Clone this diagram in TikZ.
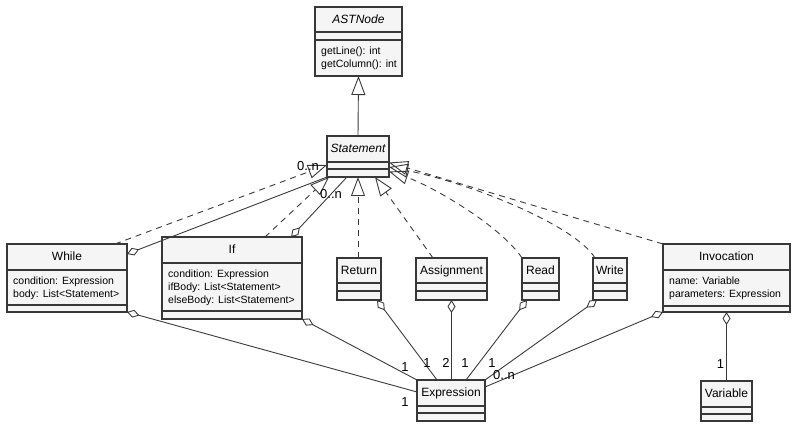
\documentclass[tikz,border=0pt]{standalone}
\usepackage{fontspec}
\setmainfont{Liberation Sans}
\usetikzlibrary{arrows.meta,calc,fit}
\definecolor{boxfill}{HTML}{F5F5F5}
\definecolor{boxline}{HTML}{383838}
\definecolor{conn}{HTML}{3A3A3A}
\newcommand{\umlbox}[7]{%
  \node[classbox, fit={(#2,#3) (#4,#5)}] (#1) {};
  \draw[divider] (#2,#6) -- (#4,#6);
  \draw[divider] (#2,#7) -- (#4,#7);
}
\begin{document}
\begin{tikzpicture}[x=1pt,y=-1pt,
  classbox/.style={draw=boxline, fill=boxfill, line width=1.4pt, inner sep=0pt, outer sep=0pt},
  divider/.style={draw=boxline, line width=1.4pt},
  cname/.style={font=\fontsize{12}{14}\selectfont, inner sep=0pt, anchor=base},
  aname/.style={font=\fontsize{12}{14}\selectfont\itshape, inner sep=0pt, anchor=base},
  attr/.style={font=\fontsize{10.5}{12}\selectfont, inner sep=0pt, anchor=base west},
  mult/.style={font=\fontsize{13}{15}\selectfont, inner sep=0pt},
  link/.style={draw=conn, line width=0.9pt},
  realize/.style={link, dash pattern=on 6pt off 5pt, -{Triangle[open, length=19pt, width=14pt]}},
  inherit/.style={link, -{Triangle[open, length=19pt, width=14pt]}},
  aggr/.style={link, {Diamond[open, length=13pt, width=8pt]}-},
]
\useasboundingbox (0,0) rectangle (796,427);

% ---- classes ----
\umlbox{astnode}{315}{7}{402}{76}{32}{40}
\node[aname] (astnode-t) at (358.5,24) {ASTNode};
\node[attr] (astnode-m1) at (321,54.5) {getLine(): int};
\node[attr] (astnode-m2) at (321,67.5) {getColumn(): int};

\umlbox{statement}{327}{136}{389}{177}{162}{169}
\node[aname] (statement-t) at (358,153) {Statement};

\umlbox{while}{7}{244}{127}{312}{270}{305}
\node[cname] (while-t) at (67,261) {While};
\node[attr] (while-a1) at (13,284.5) {condition: Expression};
\node[attr] (while-a2) at (13,297.5) {body: List<Statement>};

\umlbox{if}{162}{237}{302}{319}{263}{311}
\node[cname] (if-t) at (232,254) {If};
\node[attr] (if-a1) at (168,277.5) {condition: Expression};
\node[attr] (if-a2) at (168,290.5) {ifBody: List<Statement>};
\node[attr] (if-a3) at (168,303.5) {elseBody: List<Statement>};

\umlbox{return}{337}{258}{381}{300}{283}{291}
\node[cname] (return-t) at (359,275) {Return};

\umlbox{assignment}{416}{258}{487}{300}{283}{291}
\node[cname] (assignment-t) at (451.5,275) {Assignment};

\umlbox{read}{522}{258}{559}{300}{283}{291}
\node[cname] (read-t) at (540.5,275) {Read};

\umlbox{write}{593}{258}{627}{300}{283}{291}
\node[cname] (write-t) at (610,275) {Write};

\umlbox{invocation}{663}{244}{790}{312}{270}{306}
\node[cname] (invocation-t) at (726.5,261) {Invocation};
\node[attr] (invocation-a1) at (669,284.5) {name: Variable};
\node[attr] (invocation-a2) at (669,297.5) {parameters: Expression};

\umlbox{variable}{701}{381}{752}{421}{407}{414}
\node[cname] (variable-t) at (726.5,398) {Variable};

\umlbox{expression}{417}{380}{485}{421}{406}{413}
\node[cname] (expression-t) at (451,397) {Expression};

% ---- generalisation / realisation ----
\draw[inherit] (statement.north) -- (astnode.south);
\draw[realize] ($(while.north west)+(108,0)$) -- ($(statement.north west)+(0,29)$);
\draw[realize] ($(if.north west)+(103,0)$) -- ($(statement.south west)+(2,0)$);
\draw[realize] (statement.south |- return.north) -- (statement.south);
\draw[realize] ($(assignment.north west)+(17,0)$) -- ($(statement.south east)+(-14,0)$);
\draw[realize] (read.north west) .. controls (500,225) and (430,185) .. ($(statement.east)+(0,15)$);
\draw[realize] ($(write.north west)+(2,0)$) .. controls (575,225) and (470,183) .. ($(statement.east)+(0,10.5)$);
\draw[realize] (invocation.north west) -- ($(statement.east)+(0,6)$);

% ---- aggregations to Statement ----
\draw[aggr] ($(while.north east)+(0,10)$) -- (statement.south west);
\draw[aggr] ($(if.north east)+(-11,0)$) -- ($(statement.south west)+(20,0)$);

% ---- aggregations to Expression ----
\draw[aggr] (while.south east) -- ($(expression.north west)+(0,12)$);
\draw[aggr] (if.south east) -- (expression.north west);
\draw[aggr] ($(return.south east)+(-4,0)$) -- ($(expression.north west)+(20,0)$);
\draw[aggr] (assignment.south) -- (assignment.south |- expression.north);
\draw[aggr] ($(read.south west)+(5,0)$) -- ($(expression.north west)+(49,0)$);
\draw[aggr] ($(write.south west)+(4,0)$) -- (expression.north east);
\draw[aggr] (invocation.south west) -- ($(expression.north east)+(0,7)$);
\draw[aggr] (invocation.south) -- (variable.north);

% ---- multiplicities ----
\node[mult] (m-while-st) at (308,166) {0..n};
\node[mult] (m-if-st) at (331,194) {0..n};
\node[mult] (m-if-ex) at (405,367) {1};
\node[mult] (m-while-ex) at (405,402) {1};
\node[mult] (m-ret-ex) at (427,363) {1};
\node[mult] (m-asg-ex) at (446,363) {2};
\node[mult] (m-read-ex) at (465,363) {1};
\node[mult] (m-write-ex) at (492,363) {1};
\node[mult] (m-inv-ex) at (504,375) {0..n};
\node[mult] (m-inv-var) at (720.5,364) {1};
\end{tikzpicture}
\end{document}
